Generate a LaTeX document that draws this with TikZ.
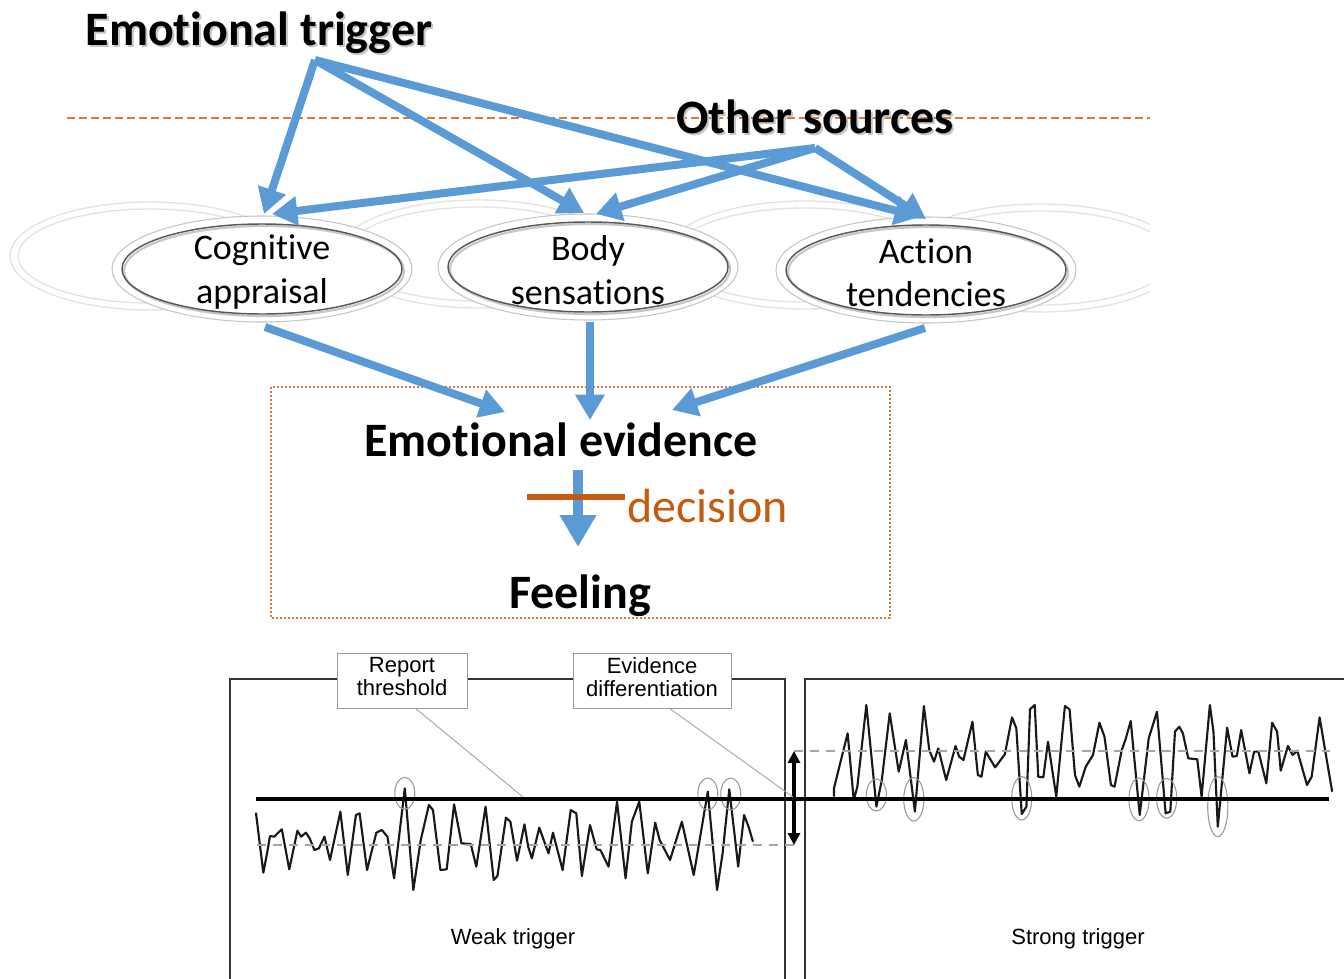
\documentclass[tikz,border=0pt]{standalone}
\usepackage{fontspec}
\setmainfont{Carlito}[Ligatures=NoCommon]
\newfontfamily\arialf{Liberation Sans}
\newcommand\nolig{\kern0pt}
\usetikzlibrary{arrows.meta,calc}
\definecolor{arrblue}{RGB}{91,155,213}
\definecolor{orng}{RGB}{197,90,17}
\definecolor{orngl}{RGB}{215,120,60}
\begin{document}
\begin{tikzpicture}[x=0.75pt,y=-0.75pt,
  bigtxt/.style={font=\fontsize{36}{40}\selectfont\bfseries, inner sep=0pt, anchor=base},
  shtxt/.style={bigtxt, text=gray!45},
  elltxt/.style={font=\fontsize{27}{32.5}\selectfont, align=center, inner sep=0pt},
  barrow/.style={draw=arrblue, line width=6pt, -{Triangle[length=19pt,width=21pt]}},
  ellout/.style={fill=white, draw=gray!45, line width=0.8pt},
  ellin/.style={draw=black!65, line width=1.1pt},
  ellsh/.style={draw=gray!45, line width=1.6pt},
  faint/.style={draw=gray!22, line width=1pt},
  panel/.style={draw=black!80, line width=0.9pt},
  callbox/.style={draw=gray!80, fill=white, line width=0.7pt, inner sep=0pt},
  calltxt/.style={font=\arialf\fontsize{16.5}{17.25}\selectfont, align=center, inner sep=0pt},
  plabel/.style={font=\arialf\fontsize{16.5}{18}\selectfont, inner sep=0pt, anchor=base},
  wave/.style={draw=black!90, line width=1.6pt, line join=round},
  gdash/.style={draw=gray!70, line width=1.3pt, dash pattern=on 7pt off 5pt},
  ring/.style={draw=gray!80, line width=0.8pt},
  leader/.style={draw=gray!70, line width=0.7pt}]
\useasboundingbox (0,0) rectangle (1344,978);

% faint background ellipses
\begin{scope}
\clip (0,150) rectangle (1150,340);
\foreach \cx/\cy in {150/256, 478/254, 805/255, 1040/258}{
  \draw[faint] (\cx,\cy) ellipse [x radius=140, y radius=54];
  \draw[faint] (\cx,\cy) ellipse [x radius=132, y radius=47];
}
\end{scope}

% main ellipses
\coordinate (cogc) at (262,269);
\coordinate (bodc) at (588,267);
\coordinate (actc) at (926,270);
\foreach \c in {cogc,bodc,actc}{
  \path[ellout] (\c) ellipse [x radius=150, y radius=53];
  \draw[ellsh] ($(\c)+(2,2)$) ellipse [x radius=140, y radius=45];
  \draw[ellin] (\c) ellipse [x radius=140, y radius=45];
}
\node[elltxt] (cog) at (262,272) {Cognit\nolig{}ive\\appraisal};
\node[elltxt] (bod) at (588,270) {Body\\sensations};
\node[elltxt] (act) at (926,273) {Action\\tendencies};

% dashed separator
\coordinate (dl) at (67,118);
\coordinate (dr) at (1150,118);
\draw[orngl, line width=1.6pt, dash pattern=on 6pt off 3pt] (dl) -- (dr);

% titles
\node[shtxt] (trigsh) at (261,47) {Emot\nolig{}ional trigger};
\node[bigtxt] (trig) at (259,45) {Emot\nolig{}ional trigger};
\node[shtxt] (othsh) at (817,135) {Other sources};
\node[bigtxt] (oth) at (815,133) {Other sources};

% arrow endpoints
\coordinate (ts) at (315,60);
\coordinate (os) at (815,148);
\coordinate (cogA) at (264,214);
\coordinate (cogB) at (272,214);
\coordinate (bodA) at (584,213);
\coordinate (bodB) at (596,214);
\coordinate (actA) at (920,217);
\coordinate (actB) at (926,219);
\draw[barrow] (ts) -- (cogA);
\draw[barrow] (ts) -- (bodA);
\draw[barrow] (ts) -- (actA);
\draw[barrow] (os) -- (cogB);
\draw[barrow] (os) -- (bodB);
\draw[barrow] (os) -- (actB);

% evidence box
\draw[orngl, line width=0.9pt, dash pattern=on 1.6pt off 1.4pt] (271,387) rectangle (890,618);
\node[bigtxt] (ev) at (561,456) {Emot\nolig{}ional evidence};
\node[bigtxt] (feel) at (580,608) {Feeling};
\node[font=\fontsize{36}{40}\selectfont, text=orng, inner sep=0pt, anchor=base west] (dec) at (627,522) {decision};

\coordinate (cogS) at (265,327);
\coordinate (bodS) at (590,322);
\coordinate (actS) at (925,328);
\coordinate (evA) at (505,412);
\coordinate (evB) at (590,420);
\coordinate (evC) at (672,410);
\draw[barrow] (cogS) -- (evA);
\draw[barrow] (bodS) -- (evB);
\draw[barrow] (actS) -- (evC);
\coordinate (dS) at (578,470);
\coordinate (dE) at (578,547);
\draw[barrow, line width=7pt, -{Triangle[length=24pt,width=26pt]}] (dS) -- (dE);
\coordinate (barL) at (527,497);
\coordinate (barR) at (625,497);
\draw[orng, line width=4pt] (barL) -- (barR);

% bottom panels
\draw[panel] (230,990) -- (230,679) -- (785,679) -- (785,990);
\draw[panel] (805,990) -- (805,679) -- (1350,679);

% left waveform (zoom coords)
\begin{scope}[shift={(230,640)}, xscale=0.37037, yscale=0.33333]
\draw[wave] plot coordinates {(70,518) (90,698) (100,640) (108,588) (120,590) (128,580) (140,568) (160,688) (182,572) (192,590) (205,578) (215,595) (228,630) (240,625) (255,590) (270,660) (298,515) (318,705) (340,525) (350,520) (370,690) (395,578) (410,570) (425,590) (443,715) (472,445) (495,750) (515,600) (537,495) (548,510) (568,690) (585,688) (605,493) (625,610) (650,612) (665,680) (690,500) (712,720) (722,708) (745,533) (757,545) (775,662) (795,553) (805,620) (815,655) (835,563) (860,640) (872,578) (898,690) (920,510) (935,520) (950,708) (972,555) (990,628) (1000,630) (1022,680) (1045,485) (1068,715) (1085,545) (1105,485) (1128,700) (1148,548) (1160,600) (1188,660) (1220,545) (1252,705) (1290,455) (1315,750) (1330,640) (1348,448) (1365,610) (1372,680) (1388,525) (1400,560) (1412,605)};
\draw[ring] (472,460) ellipse [x radius=27, y radius=48];
\draw[ring] (1290,462) ellipse [x radius=27, y radius=48];
\draw[ring] (1352,462) ellipse [x radius=27, y radius=48];
\end{scope}

% right waveform (zoom coords)
\begin{scope}[shift={(780,660)}, xscale=0.35971, yscale=0.33333]
\draw[wave] plot coordinates {(150,410) (150,385) (188,220) (205,420) (215,380) (240,135) (268,440) (283,360) (305,160) (330,335) (350,240) (375,455) (400,138) (415,270) (428,305) (440,265) (462,360) (488,258) (498,290) (510,300) (535,185) (550,345) (560,350) (572,275) (598,322) (625,283) (645,172) (657,205) (672,462) (685,440) (695,148) (708,135) (718,350) (732,352) (745,245) (768,410) (792,138) (805,148) (820,345) (832,380) (850,320) (870,285) (888,188) (902,230) (920,375) (930,380) (950,270) (960,240) (975,183) (1000,465) (1025,235) (1048,155) (1072,460) (1085,455) (1098,215) (1110,200) (1120,220) (1135,295) (1160,298) (1172,410) (1195,135) (1205,215) (1217,500) (1243,203) (1258,290) (1270,288) (1282,210) (1305,340) (1318,275) (1330,275) (1352,370) (1368,188) (1382,215) (1392,332) (1412,258) (1425,285) (1438,272) (1465,375) (1478,350) (1500,172) (1520,300) (1535,395)};
\draw[ring] (268,405) ellipse [x radius=28, y radius=48];
\draw[ring] (372,418) ellipse [x radius=28, y radius=65];
\draw[ring] (672,415) ellipse [x radius=28, y radius=65];
\draw[ring] (998,418) ellipse [x radius=28, y radius=64];
\draw[ring] (1075,415) ellipse [x radius=28, y radius=60];
\draw[ring] (1217,440) ellipse [x radius=28, y radius=90];
\end{scope}

% threshold and baselines
\coordinate (thL) at (256,799);
\coordinate (thR) at (1329,799);
\draw[black, line width=2.3pt] (thL) -- (thR);
\coordinate (wdL) at (257,845);
\coordinate (wdR) at (794,845);
\coordinate (sdL) at (794,751);
\coordinate (sdR) at (1330,751);
\draw[gdash] (wdL) -- (wdR);
\draw[gdash] (sdL) -- (sdR);
\draw[black, line width=2.5pt, {Triangle[length=9pt,width=9pt]}-{Triangle[length=9pt,width=9pt]}] (sdL) -- (wdR);

% callouts
\coordinate (rpE) at (523,797);
\coordinate (evE) at (793,797);
\node[callbox, minimum width=97.5pt, minimum height=41.25pt] (rep) at (402,680.5) {};
\node[calltxt] (rept) at (402,677) {Report\\threshold};
\node[callbox, minimum width=118.5pt, minimum height=41.25pt] (evd) at (652,680.5) {};
\node[calltxt] (evdt) at (652,677) {Evidence\\differentiation};
\draw[leader] (415,708) -- (rpE);
\draw[leader] (669,708) -- (evE);

\node[plabel] (weak) at (513,944) {Weak trigger};
\node[plabel] (strong) at (1078,944) {Strong trigger};
\end{tikzpicture}
\end{document}
